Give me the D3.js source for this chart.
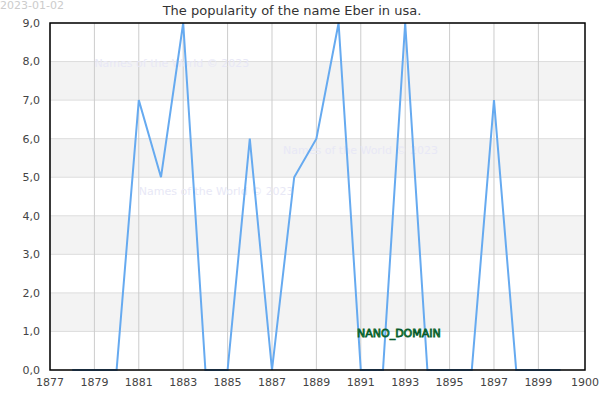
<!DOCTYPE html>
<html>
<head>
<meta charset="utf-8">
<script src="https://cdn.jsdelivr.net/npm/d3@7"></script>
<style>
  body { margin: 0; background: #fff; }
  text { font-family: "DejaVu Sans", sans-serif; }
</style>
</head>
<body>
<div id="chart"></div>
<script>
// data
const years = [1878, 1879, 1880, 1881, 1882, 1883, 1884, 1885, 1886, 1887, 1888, 1889,
               1890, 1891, 1892, 1893, 1894, 1895, 1896, 1897, 1898, 1899, 1900];
const counts = [0, 0, 0, 7, 5, 9, 0, 0, 6, 0, 5, 6,
                9, 0, 0, 9, 0, 0, 0, 7, 0, 0, 0];
const xTicks = [1877, 1879, 1881, 1883, 1885, 1887, 1889, 1891, 1893, 1895, 1897, 1899];
const yTicks = [0, 1, 2, 3, 4, 5, 6, 7, 8, 9];
const watermarks = [
  {text: "Names of the World © 2023", x: 1879, y: 7.85},
  {text: "Names of the World © 2023", x: 1887.5, y: 5.6},
  {text: "Names of the World © 2023", x: 1881, y: 4.55}
];

const W = 600, H = 400;
const margin = {top: 23, right: 15, bottom: 30, left: 50};
const width = W - margin.left - margin.right;
const height = H - margin.top - margin.bottom;

const svg = d3.select("#chart").append("svg")
    .attr("width", W)
    .attr("height", H);

const g = svg.append("g")
    .attr("transform", `translate(${margin.left},${margin.top})`);

const xMax = 1901.1;
const x = d3.scaleLinear().domain([1877, xMax]).range([0, width]);
const y = d3.scaleLinear().domain([0, 9]).range([height, 0]);

// alternating bands
g.selectAll(".band")
    .data(yTicks.filter(d => d % 2 === 1 && d < 9))
    .join("rect")
    .attr("x", 0)
    .attr("width", width)
    .attr("y", d => y(d + 1))
    .attr("height", d => y(d) - y(d + 1))
    .attr("fill", "#f3f3f3");

// horizontal grid
g.selectAll(".hgrid")
    .data(yTicks)
    .join("line")
    .attr("x1", 0).attr("x2", width)
    .attr("y1", d => y(d)).attr("y2", d => y(d))
    .attr("stroke", "#dddddd");

// vertical grid
g.selectAll(".vgrid")
    .data(xTicks)
    .join("line")
    .attr("x1", d => x(d)).attr("x2", d => x(d))
    .attr("y1", 0).attr("y2", height)
    .attr("stroke", "#cccccc");

// watermarks
g.selectAll(".wm")
    .data(watermarks)
    .join("text")
    .attr("x", d => x(d.x))
    .attr("y", d => y(d.y))
    .attr("font-size", 11)
    .attr("fill", "#e8e8f6")
    .text(d => d.text);

// line
g.append("path")
    .datum(years.map((yr, i) => ({yr, v: counts[i]})))
    .attr("fill", "none")
    .attr("stroke", "#66aaf0")
    .attr("stroke-width", 2)
    .attr("d", d3.line().x(d => x(d.yr)).y(d => y(d.v)));

// frame
g.append("rect")
    .attr("width", width).attr("height", height)
    .attr("fill", "none")
    .attr("stroke", "#000")
    .attr("stroke-width", 1.5);

// y axis labels
const fmt = d => d3.format(".1f")(d).replace(".", ",");
g.selectAll(".ylab")
    .data(yTicks)
    .join("text")
    .attr("x", -10)
    .attr("y", d => y(d))
    .attr("dy", "0.35em")
    .attr("text-anchor", "end")
    .attr("font-size", 11)
    .attr("fill", "#444")
    .text(fmt);

// x axis labels
g.selectAll(".xlab")
    .data(xTicks.concat([xMax]))
    .join("text")
    .attr("x", d => x(d))
    .attr("y", height + 16)
    .attr("text-anchor", "middle")
    .attr("font-size", 11)
    .attr("fill", "#444")
    .text(d => d === xMax ? "1900" : d);

// title
svg.append("text")
    .attr("x", 292)
    .attr("y", 15)
    .attr("text-anchor", "middle")
    .attr("font-size", 13)
    .attr("fill", "#333")
    .text("The popularity of the name Eber in usa.");

svg.append("text")
    .attr("x", 0)
    .attr("y", 9)
    .attr("font-size", 11)
    .attr("fill", "#cccccc")
    .text("2023-01-02");

svg.append("text")
    .attr("x", 357)
    .attr("y", 337)
    .attr("font-size", 11)
    .attr("fill", "#22bb55")
    .attr("stroke", "#0a5a2a")
    .attr("stroke-width", 0.8)
    .text("NANO_DOMAIN");
</script>
</body>
</html>
